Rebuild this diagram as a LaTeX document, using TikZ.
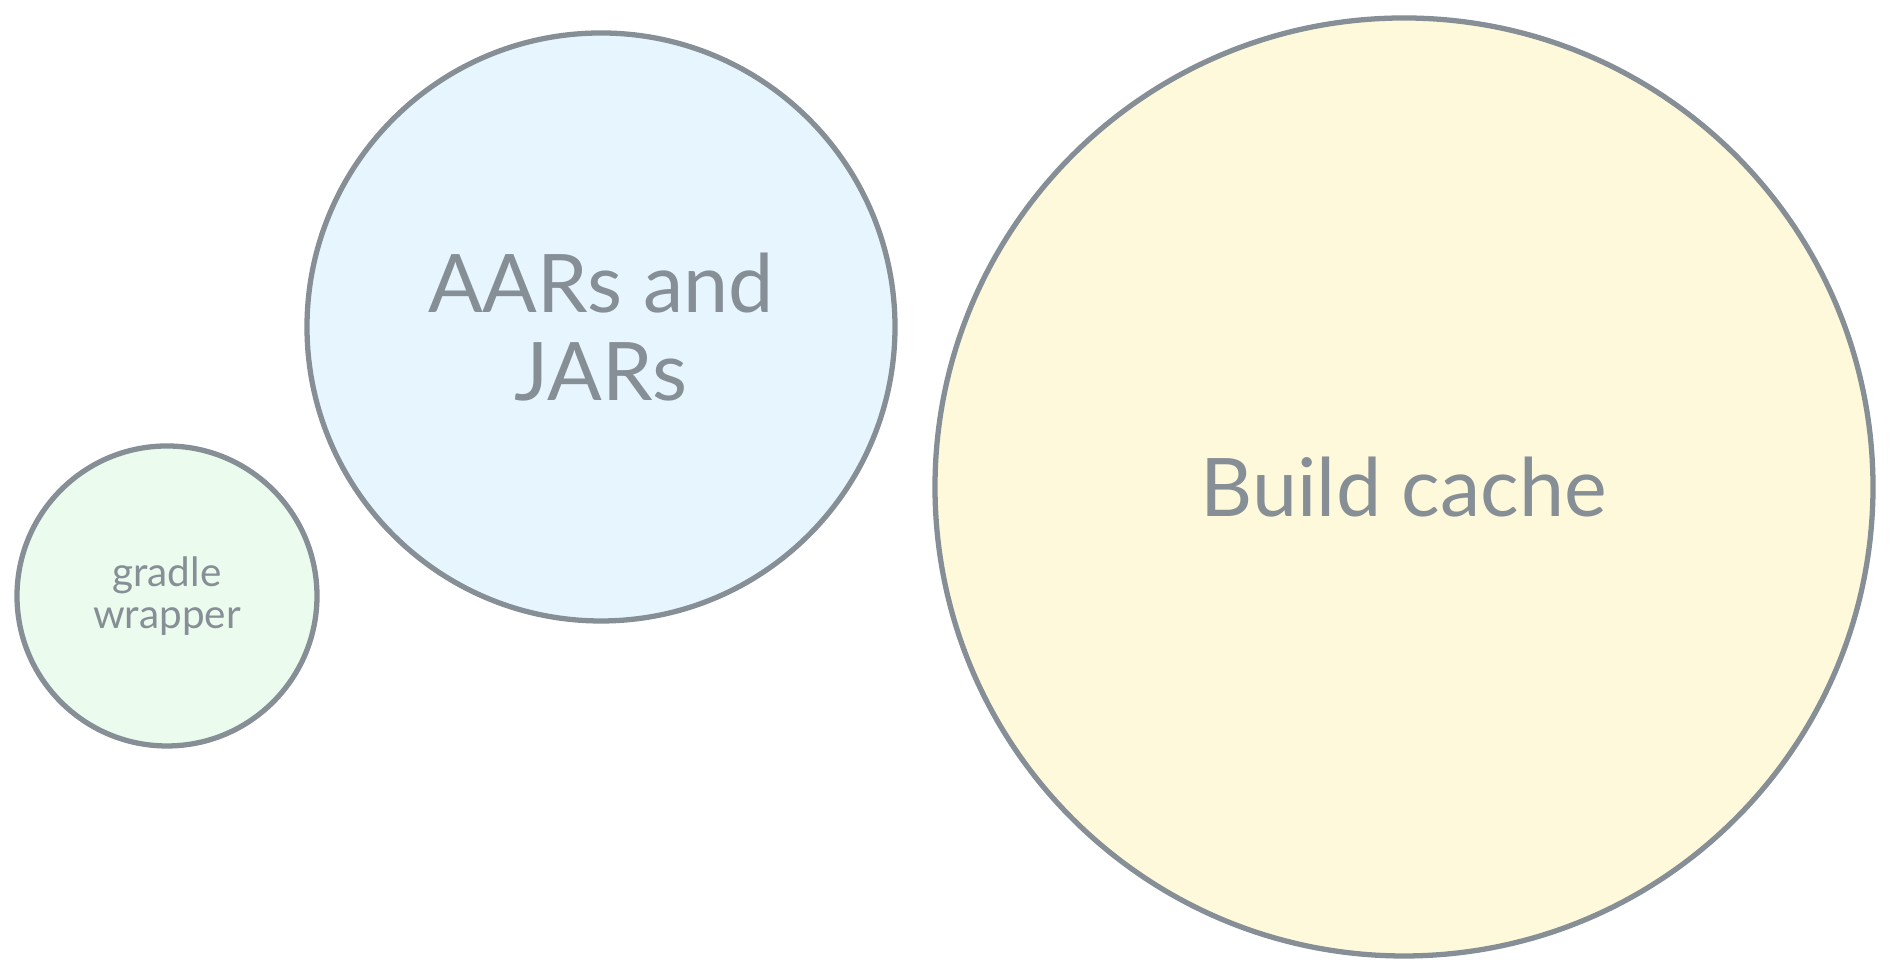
\documentclass[tikz,border=0pt]{standalone}
\usepackage{fontspec}
\setmainfont{Lato}
\usetikzlibrary{positioning}
\definecolor{strokegray}{HTML}{868E96}
\definecolor{mintfill}{HTML}{EBFBEE}
\definecolor{skyfill}{HTML}{E7F5FF}
\definecolor{creamfill}{HTML}{FFF9DB}

\begin{document}
\begin{tikzpicture}[bubble/.style={circle, draw=strokegray, line width=1.5pt, text=strokegray, align=center, inner sep=0pt}]
  \useasboundingbox (0,0) rectangle (18.90,9.74);
  % three stores, drawn left to right
  \node[bubble, fill=mintfill, minimum size=3.00cm, font=\fontsize{11.5}{12}\selectfont] (wrapper) at (1.67,3.78) {gradle\\wrapper};
  \node[bubble, fill=skyfill, minimum size=5.88cm, font=\fontsize{23}{25}\selectfont] (jars) at (6.01,6.47) {AARs and\\JARs};
  \node[bubble, fill=creamfill, minimum size=9.38cm, font=\fontsize{23}{25}\selectfont] (cache) at (14.04,4.87) {Build cache};
\end{tikzpicture}
\end{document}
